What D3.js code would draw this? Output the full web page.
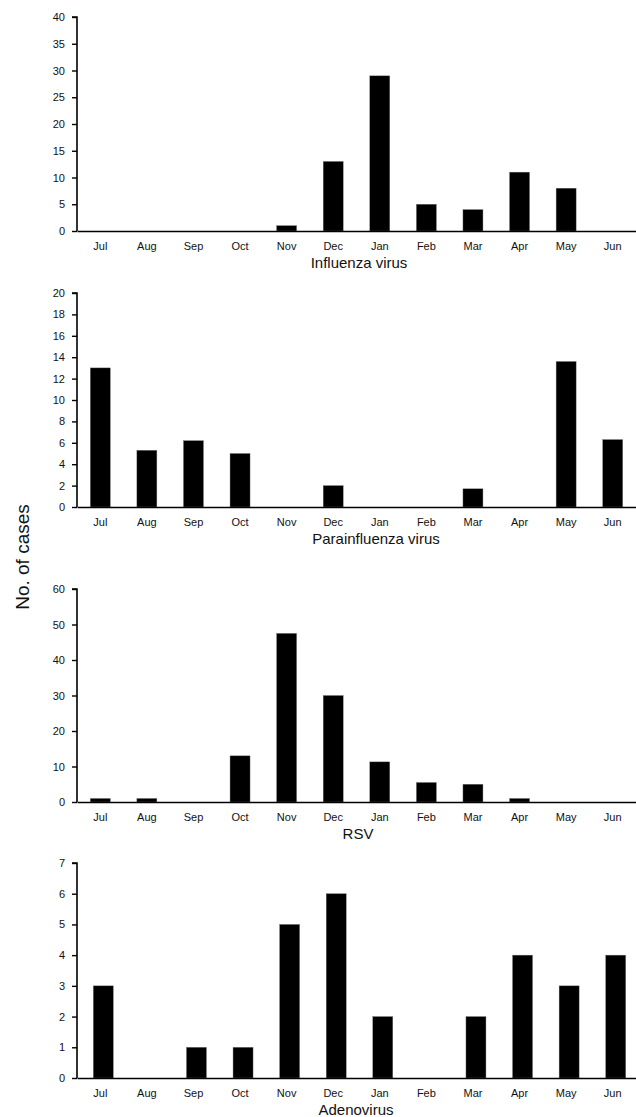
<!DOCTYPE html>
<html><head><meta charset="utf-8">
<script src="https://cdn.jsdelivr.net/npm/d3@7"></script>
<style>
body{margin:0;background:#fff;}
text{font-family:"Liberation Sans",Arial,Helvetica,sans-serif;}
</style></head>
<body><svg id="c" width="636" height="1117"></svg>
<script>
const months = ["Jul","Aug","Sep","Oct","Nov","Dec","Jan","Feb","Mar","Apr","May","Jun"];
const influenza     = [0,0,0,0,1,13,29,5,4,11,8,0];
const parainfluenza = [13,5.3,6.2,5,0,2,0,0,1.7,0,13.6,6.3];
const rsv           = [1,1,0,13,47.5,30,11.3,5.5,5,1,0,0];
const adenovirus    = [3,0,1,1,5,6,2,0,2,4,3,4];
const titles = ["Influenza virus","Parainfluenza virus","RSV","Adenovirus"];
const yMaxes = [40,20,60,7];
const yTickSteps = [5,2,10,1];
const yLabel = "No. of cases";

const series = [influenza, parainfluenza, rsv, adenovirus];
const layout = [
  {top:17, zero:231, titleX:359, dx:0},
  {top:293, zero:507, titleX:376, dx:0},
  {top:589, zero:802, titleX:358, dx:0},
  {top:863, zero:1078, titleX:356, dx:3}
];
const svg = d3.select("#c");
const x = d3.scaleBand().domain(months).range([77,636]).paddingInner(0).paddingOuter(0);
const bw = 20;

series.forEach((vals,i)=>{
  const L = layout[i];
  const y = d3.scaleLinear().domain([0,yMaxes[i]]).range([L.zero,L.top]);
  const g = svg.append("g");
  g.selectAll("rect").data(vals).join("rect")
    .attr("x",(d,j)=>x(months[j])+x.bandwidth()/2-bw/2+L.dx)
    .attr("width",bw)
    .attr("y",d=>y(d))
    .attr("height",d=>L.zero-y(d))
    .attr("fill","#000")
    .attr("stroke","#777").attr("stroke-width",0.4);
  const ticks = d3.range(0,yMaxes[i]+1e-9,yTickSteps[i]);
  const ax = g.append("g").attr("transform","translate(77,0)")
    .call(d3.axisLeft(y).tickValues(ticks).tickSize(5).tickPadding(7).tickFormat(d3.format("d")));
  ax.select(".domain").attr("stroke","#000").attr("stroke-width",1.6).attr("d",`M-5,${L.top}H0V${L.zero}`);
  ax.selectAll(".tick line").attr("stroke","#000").attr("stroke-width",1.4);
  ax.selectAll(".tick text").attr("font-size",11).attr("fill","#111")
    .attr("font-family","'Liberation Sans',Arial,sans-serif");
  const xa = g.append("g").attr("transform",`translate(0,${L.zero})`)
    .call(d3.axisBottom(x).tickSize(0).tickPadding(11));
  xa.select(".domain").attr("stroke","#000").attr("stroke-width",1.6);
  xa.selectAll(".tick text").attr("font-size",11).attr("fill","#111")
    .attr("font-family","'Liberation Sans',Arial,sans-serif");
  g.append("text").attr("x",L.titleX).attr("y",L.zero+37)
    .attr("text-anchor","middle").attr("font-size",15).attr("fill","#111").text(titles[i]);
});
svg.append("text").attr("transform","translate(29,557) rotate(-90)")
  .attr("text-anchor","middle").attr("font-size",19).attr("fill","#111").text(yLabel);
</script></body></html>
